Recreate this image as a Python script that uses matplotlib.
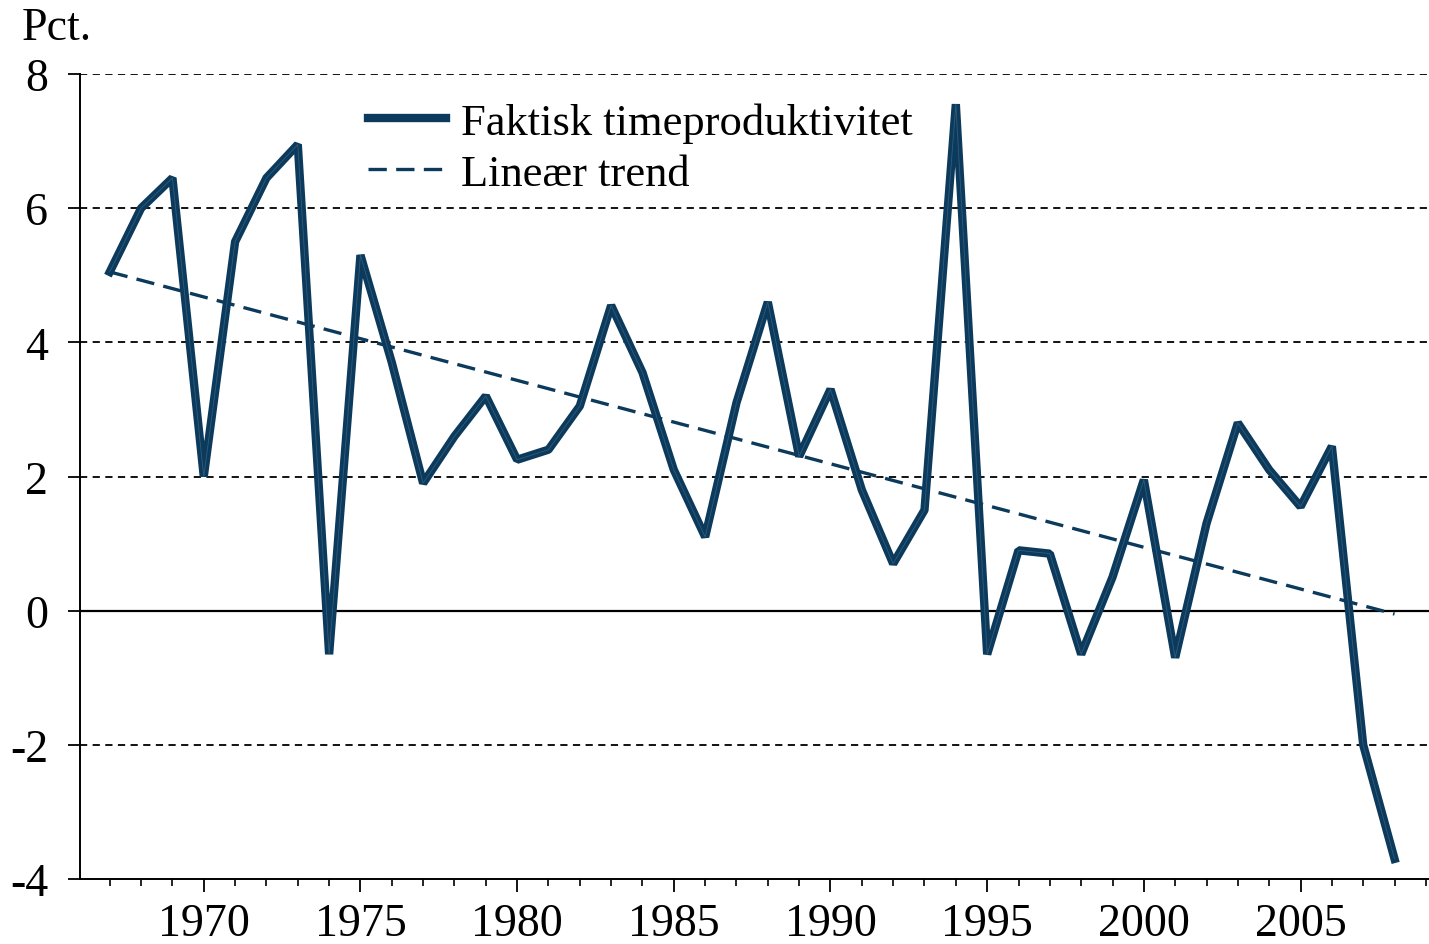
import matplotlib
matplotlib.use("Agg")
import matplotlib.pyplot as plt
from matplotlib.ticker import MultipleLocator

years = list(range(1967, 2009))
productivity = [5.05, 6.0, 6.45, 2.0, 5.5, 6.45, 6.95, -0.65, 5.3, 3.7,
                1.9, 2.6, 3.2, 2.25, 2.4, 3.05, 4.55, 3.55, 2.1, 1.1,
                3.1, 4.6, 2.3, 3.3, 1.8, 0.7, 1.5, 7.55, -0.65, 0.9,
                0.85, -0.65, 0.5, 1.95, -0.7, 1.3, 2.8, 2.1, 1.55, 2.45,
                -2.0, -3.7]
trend_years = [1967, 2008]
trend_values = [5.05, -0.05]

y_ticks = [-4, -2, 0, 2, 4, 6, 8]
x_ticks = [1970, 1975, 1980, 1985, 1990, 1995, 2000, 2005]

navy = "#0b3a5c"

plt.rcParams["font.family"] = ["Liberation Serif", "DejaVu Serif"]
plt.rcParams["axes.unicode_minus"] = False

fig = plt.figure(figsize=(14.29, 9.45), dpi=100)
ax = fig.add_axes([80 / 1429, 1 - 880 / 945, 1 - 80 / 1429, (880 - 75) / 945])

for y in y_ticks:
    if y == 0:
        ax.axhline(y, color="black", lw=1.6, zorder=1)
    elif y != -4:
        ax.axhline(y, color="black", lw=1.3, ls=(0, (4, 3)), zorder=1)

ax.plot(years, productivity, color=navy, lw=6, solid_joinstyle="bevel",
        label="Faktisk timeproduktivitet", zorder=3)
ax.plot(years, productivity, color="#7d98ad", lw=0.6, alpha=0.35, zorder=4)
ax.plot(trend_years, trend_values, color=navy, lw=2.4, ls=(0, (5.5, 2.8)),
        label="Lineær trend", zorder=2)

ax.set_xlim(1966.05, 2009.1)
ax.set_ylim(-4, 8)
ax.set_yticks(y_ticks)
ax.set_xticks(x_ticks)
ax.xaxis.set_minor_locator(MultipleLocator(1))

for side in ["top", "right"]:
    ax.spines[side].set_visible(False)
ax.spines["left"].set_linewidth(1.4)
ax.spines["bottom"].set_linewidth(1.4)

ax.tick_params(axis="y", direction="out", length=9, width=1.3, pad=14,
               labelsize=33)
ax.tick_params(axis="x", which="major", direction="out", length=9, width=1.3,
               pad=8, labelsize=33)
ax.tick_params(axis="x", which="minor", direction="out", length=5, width=1.2)

fig.text(22 / 1429, 1 - 40 / 945, "Pct.", fontsize=33, ha="left",
         va="baseline")

ax.legend(loc="upper left", bbox_to_anchor=((368 - 80) / 1349, 0.965),
          frameon=False, fontsize=32, handlelength=1.75, handletextpad=0.35,
          labelspacing=0.25, borderaxespad=0, borderpad=0)

fig.savefig("out.png", dpi=100)
